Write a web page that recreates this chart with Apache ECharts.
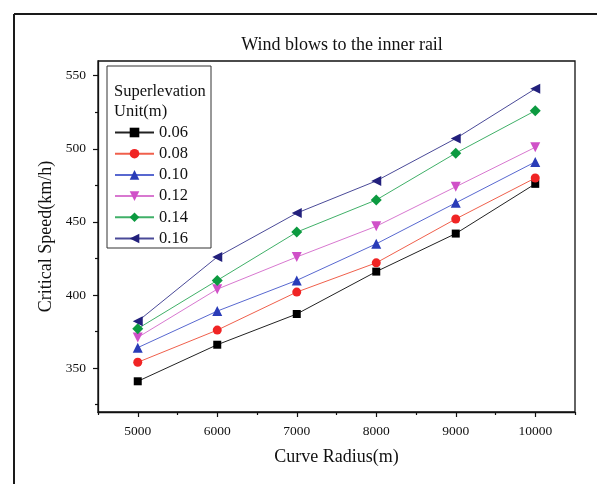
<!DOCTYPE html>
<html>
<head>
<meta charset="utf-8">
<script src="https://cdn.jsdelivr.net/npm/echarts@6/dist/echarts.min.js"></script>
<style>
  html, body { margin: 0; padding: 0; background: #fff; }
  #chart { width: 597px; height: 484px; }
</style>
</head>
<body>
<div id="chart"></div>
<script>
// Curve radius (m) on the x axis
const radius = [5000, 6000, 7000, 8000, 9000, 10000];

// Superelevation values (m), one series each
const superelevations = ['0.06', '0.08', '0.10', '0.12', '0.14', '0.16'];

// Critical speed (km/h) for each superelevation
const speed006 = [341, 366, 387, 416, 442, 476];
const speed008 = [354, 376, 402, 422, 452, 480];
const speed010 = [364, 389, 410, 435, 463, 491];
const speed012 = [371, 404, 426, 447, 474, 501];
const speed014 = [377, 410, 443, 465, 497, 526];
const speed016 = [382, 426, 456, 478, 507, 541];

// Tick positions
const xTickLabels = [5000, 6000, 7000, 8000, 9000, 10000];
const xMinorTicks = [4500, 5500, 6500, 7500, 8500, 9500, 10500];
const yTickLabels = [350, 400, 450, 500, 550];
const yMinorTicks = [325, 375, 425, 475, 525];

const serif = "'Liberation Serif', 'Times New Roman', serif";

const seriesStyles = [
  { data: speed006, symbol: 'rect',     size: 8,  rotate: 0,   mark: '#000000', line: '#222222' },
  { data: speed008, symbol: 'circle',   size: 9,  rotate: 0,   mark: '#f02424', line: '#f0604c' },
  { data: speed010, symbol: 'triangle', size: 10, rotate: 0,   mark: '#2a3cb8', line: '#5868d0' },
  { data: speed012, symbol: 'triangle', size: 10, rotate: 180, mark: '#d050c8', line: '#d878d0' },
  { data: speed014, symbol: 'diamond',  size: 11, rotate: 0,   mark: '#0c9a40', line: '#40b068' },
  { data: speed016, symbol: 'triangle', size: 10, rotate: 90,  mark: '#22207c', line: '#4a4a98' }
];

const series = seriesStyles.map((s, k) => ({
  type: 'line',
  name: superelevations[k],
  xAxisIndex: 0,
  yAxisIndex: 0,
  data: radius.map((r, i) => [r, s.data[i]]),
  symbol: s.symbol,
  symbolSize: s.size,
  symbolRotate: s.rotate,
  showAllSymbol: true,
  lineStyle: { width: 1, color: s.line },
  itemStyle: { color: s.mark },
  emphasis: { disabled: true },
  z: 3 + k
}));

const chart = echarts.init(document.getElementById('chart'), null, { renderer: 'canvas' });

const axisBase = {
  axisLine: { show: true, onZero: false, lineStyle: { color: '#111', width: 1.3 } },
  splitLine: { show: false }
};

chart.setOption({
  animation: false,
  backgroundColor: '#ffffff',
  textStyle: { fontFamily: serif },
  grid: {
    left: 98, right: 22, top: 61, bottom: 72,
    show: true, borderColor: '#111', borderWidth: 1.3, backgroundColor: 'transparent'
  },
  xAxis: [
    Object.assign({}, axisBase, {
      type: 'value', min: 4500, max: 10500,
      name: 'Curve Radius(m)', nameLocation: 'middle', nameGap: 36,
      nameTextStyle: { fontFamily: serif, fontSize: 18, color: '#111' },
      axisTick: { show: true, length: 5, customValues: xTickLabels, lineStyle: { color: '#111', width: 1.2 } },
      axisLabel: { customValues: xTickLabels, margin: 12, fontFamily: serif, fontSize: 13.5, color: '#111',
                   formatter: v => String(v) }
    }),
    {
      type: 'value', min: 4500, max: 10500, position: 'bottom',
      axisLine: { show: false },
      axisTick: { show: true, length: 3, customValues: xMinorTicks, lineStyle: { color: '#111', width: 1.2 } },
      axisLabel: { show: false },
      splitLine: { show: false }
    }
  ],
  yAxis: [
    Object.assign({}, axisBase, {
      type: 'value', min: 320, max: 560,
      name: 'Critical Speed(km/h)', nameLocation: 'middle', nameGap: 40,
      nameTextStyle: { fontFamily: serif, fontSize: 18, color: '#111' },
      axisTick: { show: true, length: 5, customValues: yTickLabels, lineStyle: { color: '#111', width: 1.2 } },
      axisLabel: { customValues: yTickLabels, margin: 12, fontFamily: serif, fontSize: 13.5, color: '#111',
                   formatter: v => String(v) }
    }),
    {
      type: 'value', min: 320, max: 560, position: 'left',
      axisLine: { show: false },
      axisTick: { show: true, length: 3, customValues: yMinorTicks, lineStyle: { color: '#111', width: 1.2 } },
      axisLabel: { show: false },
      splitLine: { show: false }
    }
  ],
  legend: {
    orient: 'vertical',
    left: 114, top: 124,
    padding: 0,
    itemWidth: 39, itemHeight: 12, itemGap: 4.2,
    textStyle: { fontFamily: serif, fontSize: 16.5, color: '#111', lineHeight: 16 },
    data: superelevations
  },
  graphic: [
    // outer frame (top and left edges)
    { type: 'line', shape: { x1: 14, y1: 14, x2: 597, y2: 14 }, style: { stroke: '#1a1a1a', lineWidth: 2 } },
    { type: 'line', shape: { x1: 14, y1: 14, x2: 14, y2: 484 }, style: { stroke: '#1a1a1a', lineWidth: 2 } },
    // title
    { type: 'text', x: 342, y: 45, style: { text: 'Wind blows to the inner rail', font: '18px ' + serif, fill: '#111', align: 'center', verticalAlign: 'middle' } },
    // legend box and its heading
    { type: 'rect', shape: { x: 107, y: 66, width: 104, height: 182 }, style: { fill: 'none', stroke: '#333', lineWidth: 1 }, z: 10 },
    { type: 'text', x: 114, y: 92, style: { text: 'Superlevation', font: '16.5px ' + serif, fill: '#111', verticalAlign: 'middle' }, z: 10 },
    { type: 'text', x: 114, y: 112, style: { text: 'Unit(m)', font: '16.5px ' + serif, fill: '#111', verticalAlign: 'middle' }, z: 10 }
  ],
  series: series
});
</script>
</body>
</html>
